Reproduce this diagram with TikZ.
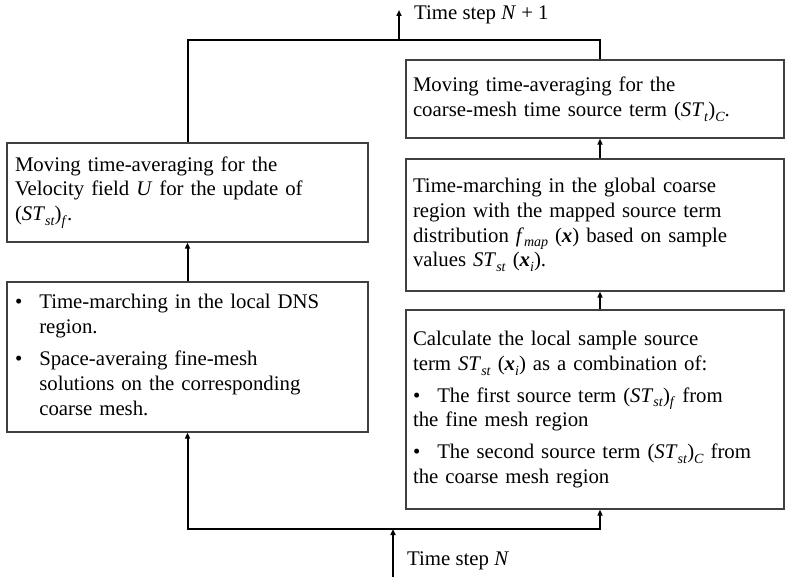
\documentclass[tikz,border=0pt]{standalone}
\usepackage{fontspec}
\setmainfont{Liberation Serif}
\usetikzlibrary{arrows.meta}
% italic symbols used in the labels
\newcommand{\vx}{\textbf{\textit{x}}}
\newcommand{\lowsub}[1]{\raisebox{-0.5ex}{\fontsize{14}{14}\selectfont\textit{#1}}}
\newcommand{\ST}{\textit{ST}}
\begin{document}
\begin{tikzpicture}[x=1pt,y=-1pt,
  box/.style={draw=black!75, line width=1.2pt, rectangle, align=left,
    inner xsep=8pt, inner ysep=0pt, anchor=center,
    font=\fontsize{20.8}{24.8}\selectfont},
  lbox/.style={box, text width=345pt},
  rbox/.style={box, inner xsep=7pt, text width=364pt},
  lbl/.style={anchor=west, inner sep=0pt, font=\fontsize{20.8}{24.8}\selectfont},
  conn/.style={line width=2pt, black},
  arr/.style={conn, -{Triangle[length=6pt,width=5pt]}}]
\useasboundingbox (0,0) rectangle (787,577);

% left column
\node[lbox, minimum height=99pt] (L1) at (187.5,192.5)
  {Moving time-averaging for the\\
   Velocity field \textit{U} for the update of\\
   (\ST\lowsub{st})\lowsub{f}.};
\node[lbox, minimum height=150pt] (L2) at (187.5,357)
  {\begin{tabular}{@{}l@{\hspace{17pt}}l@{}}
   \textbullet & Time-marching in the local DNS\\
               & region.\\[7pt]
   \textbullet & Space-averaing fine-mesh\\
               & solutions on the corresponding\\
               & coarse mesh.
   \end{tabular}};

% right column
\node[rbox, minimum height=78pt] (R1) at (595,99)
  {Moving time-averaging for the\\
   coarse-mesh time source term (\ST\lowsub{t})\lowsub{C}.};
\node[rbox, minimum height=132pt] (R2) at (595,225)
  {Time-marching in the global coarse\\
   region with the mapped source term\\
   distribution \textit{f}\lowsub{map} (\vx) based on sample\\
   values \ST\lowsub{st} (\vx\lowsub{i}).};
\node[rbox, minimum height=199pt] (R3) at (595,409.5)
  {Calculate the local sample source\\
   term \ST\lowsub{st} (\vx\lowsub{i}) as a combination of:\\[7pt]
   \textbullet\hspace{17pt}The first source term (\ST\lowsub{st})\lowsub{f} from\\
   the fine mesh region\\[7pt]
   \textbullet\hspace{17pt}The second source term (\ST\lowsub{st})\lowsub{C} from\\
   the coarse mesh region};

% loop corners and time-step ends
\coordinate (tl) at (187.5,40);
\coordinate (tr) at (600,40);
\coordinate (bl) at (187.5,529);
\coordinate (br) at (600,529);
\coordinate (nin) at (393,577);
\coordinate (nbot) at (393,529);
\coordinate (ntop) at (399,40);
\coordinate (nout) at (399,10);

\node[lbl] (tn1) at (414,15) {Time step \textit{N} + 1};
\node[lbl] (tn) at (407,561) {Time step \textit{N}};

% connectors
\draw[arr] (nin) -- (nbot);
\draw[arr] (br) -- (bl) -- (L2.south -| bl);
\draw[arr] (bl) -- (br) -- (R3.south -| br);
\draw[arr] (L2.north) -- (L1.south);
\draw[arr] (R3.north -| tr) -- (R2.south -| tr);
\draw[arr] (R2.north -| tr) -- (R1.south -| tr);
\draw[conn] (L1.north -| tl) -- (tl) -- (tr) -- (R1.north -| tr);
\draw[arr] (ntop) -- (nout);
\end{tikzpicture}
\end{document}
